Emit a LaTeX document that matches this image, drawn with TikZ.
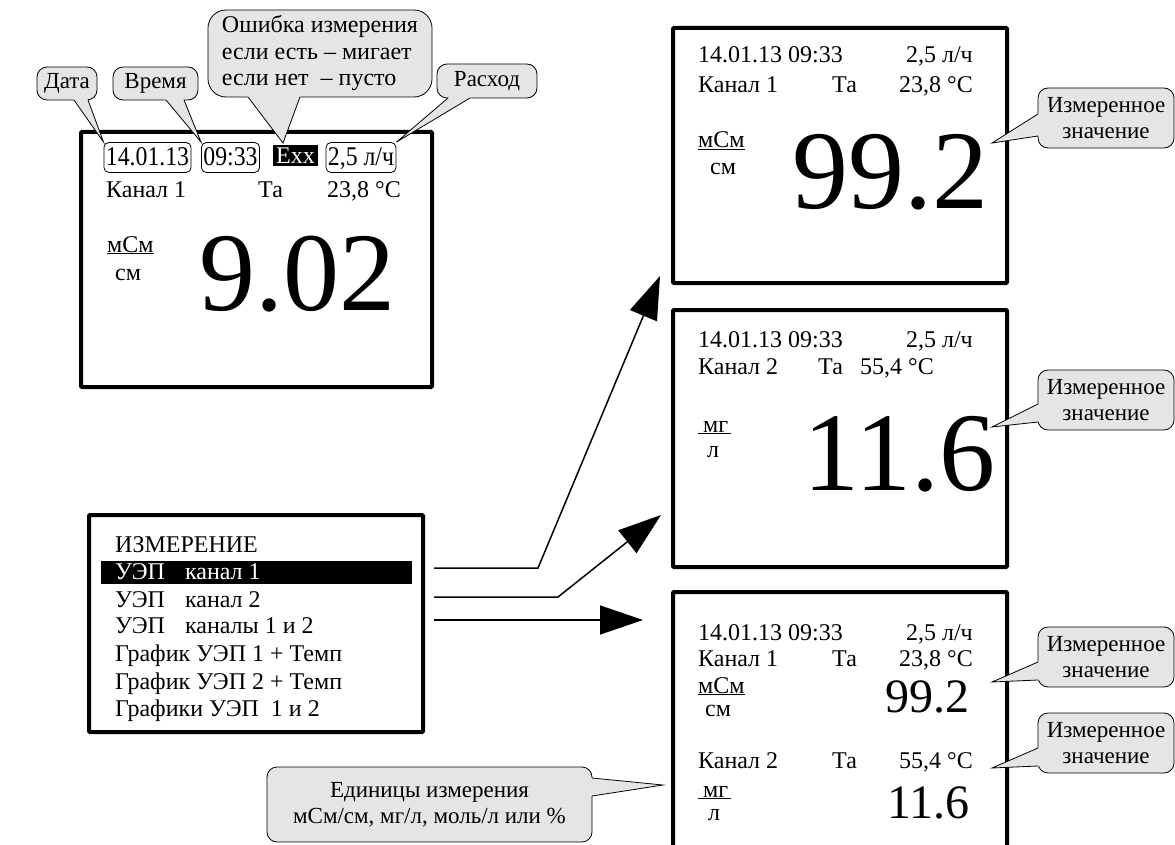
\documentclass[tikz,border=0pt]{standalone}
\usepackage{fontspec}
\setmainfont{Liberation Serif}
\newfontfamily\fldfont{Liberation Serif}[FakeStretch=0.88]
\usetikzlibrary{arrows.meta}
\usetikzlibrary{calc}

\definecolor{notegray}{gray}{0.9}

% pointer of a callout: base point, tip, base point
\newcommand{\notetip}[3]{%
  \fill[notegray] (#2) -- ($(#2)!1.25!(#1)$) -- ($(#2)!1.25!(#3)$) -- cycle;
  \draw[line width=.8pt, line join=miter] (#1) -- (#2) -- (#3);}

\tikzset{
  screen/.style={draw, line width=4pt, rounded corners=1pt, inner sep=0pt},
  txt/.style={inner sep=0pt, anchor=base west, text height=17pt, text depth=4pt,
    font=\fontsize{24}{26}\selectfont},
  txtr/.style={txt, anchor=base east},
  mnu/.style={inner sep=0pt, anchor=base west, font=\fontsize{24}{26}\selectfont},
  big/.style={inner sep=0pt, anchor=base east, text height=76pt, text depth=0pt,
    font=\fontsize{112}{112}\selectfont},
  mid/.style={inner sep=0pt, anchor=base east, text height=32pt, text depth=0pt,
    font=\fontsize{48}{48}\selectfont},
  fld/.style={draw, line width=.8pt, rounded corners=5pt, inner xsep=2pt, inner ysep=3.5pt,
    text height=20pt, text depth=3pt, font=\fldfont\fontsize{27}{27}\selectfont},
  note/.style={draw, line width=.8pt, fill=notegray, rounded corners=10pt, align=center,
    inner sep=0pt, font=\fontsize{23}{26}\selectfont},
  arr/.style={line width=1.5pt, -{Triangle[length=43pt,width=29pt]}},
}

\begin{document}
\begin{tikzpicture}[x=1pt, y=-1pt]
  \useasboundingbox (0,0) rectangle (1175,845);

  % screen with the fields
  \node[screen, minimum width=351pt, minimum height=255pt] (scr0) at (256.5,259.5) {};
  \node[fld] (date) at (147.5,157.5) {14.01.13};
  \node[fld] (time) at (230.5,157.5) {09:33};
  \node[fill=black, text=white, inner xsep=3pt, inner ysep=1.5pt, text height=17pt, text depth=1pt,
    font=\fontsize{24}{24}\selectfont] (err) at (295.5,155.5) {Exx};
  \node[fld] (flow) at (361,157.5) {2,5 л/ч};
  \node[txt] at (106,197) {Канал 1};
  \node[txt] at (258,197) {Та};
  \node[txt] at (327,197) {23,8 °C};
  \node[txt] at (107,252) {\underline{мСм}};
  \node[txt] at (115,280) {см};
  \node[big] (val0) at (396,310) {9.02};

  \node[note, minimum width=60pt, minimum height=33pt] (ndate) at (67,83.5) {Дата};
  \node[note, minimum width=85pt, minimum height=33pt] (ntime) at (155.5,83.5) {Время};
  \node[note, rounded corners=18pt, align=left, minimum width=224pt, minimum height=87pt,
    font=\fontsize{24}{26.5}\selectfont] (nerr) at (320,53.5)
    {Ошибка измерения\\если есть – мигает\\если нет \ – пусто};
  \node[note, minimum width=100pt, minimum height=34pt] (nflow) at (487,81) {Расход};
  \notetip{74,100}{date.north west}{88,100}
  \notetip{166,100}{time.north west}{184,100}
  \notetip{248,97}{283,143}{300,97}
  \notetip{448,98}{flow.north east}{470,98}

  % menu
  \node[screen, minimum width=334pt, minimum height=217pt] (menu) at (256,623.5) {};
  \fill (101,561) rectangle (412,584);
  \node[mnu] (m0) at (115,552) {ИЗМЕРЕНИЕ};
  \node[mnu, text=white] (m1) at (115,579) {УЭП\hspace{20pt}канал 1};
  \node[mnu] (m2) at (115,607) {УЭП\hspace{20pt}канал 2};
  \node[mnu] (m3) at (115,633) {УЭП\hspace{20pt}каналы 1 и 2};
  \node[mnu] (m4) at (115,661) {График УЭП 1 + Темп};
  \node[mnu] (m5) at (115,689) {График УЭП 2 + Темп};
  \node[mnu] (m6) at (115,716) {Графики УЭП\hspace{12pt}1 и 2};

  \node[note, minimum width=325pt, minimum height=75pt] (nunit) at (429.5,804.5)
    {Единицы измерения\\мСм/см, мг/л, моль/л или \%};
  \notetip{592,778}{663,785}{592,796}

  % screen: channel 1
  \node[screen, minimum width=334pt, minimum height=255pt] (scr1) at (840,155.5) {};
  \node[txt] at (698,63) {14.01.13 09:33};
  \node[txtr] at (973,63) {2,5 л/ч};
  \node[txt] at (698,93) {Канал 1};
  \node[txt] at (832,93) {Та};
  \node[txtr] at (973,93) {23,8 °C};
  \node[txt] at (698,148) {\underline{мСм}};
  \node[txt] at (710,175) {см};
  \node[big] (val1) at (989,208) {99.2};
  \node[note, minimum width=136pt, minimum height=60pt] (nval1) at (1106,118) {Измеренное\\значение};
  \notetip{1038,114}{992,143}{1038,136}

  % screen: channel 2
  \node[screen, minimum width=334pt, minimum height=257pt] (scr2) at (840,438.5) {};
  \node[txt] at (698,347) {14.01.13 09:33};
  \node[txtr] at (973,347) {2,5 л/ч};
  \node[txt] at (698,374) {Канал 2};
  \node[txt] at (818,374) {Та};
  \node[txt] at (860,374) {55,4 °C};
  \node[txt] at (698,432) {\underline{\hspace{5pt}мг\hspace{3pt}}};
  \node[txt] at (707,457) {л};
  \node[big] (val2) at (996,490) {11.6};
  \node[note, minimum width=136pt, minimum height=60pt] (nval2) at (1106,400) {Измеренное\\значение};
  \notetip{1038,404}{992,427}{1038,422}

  % screen: channels 1 and 2
  \node[screen, minimum width=334pt, minimum height=263pt] (scr3) at (840,723.5) {};
  \node[txt] at (698,640) {14.01.13 09:33};
  \node[txtr] at (973,640) {2,5 л/ч};
  \node[txt] at (698,666) {Канал 1};
  \node[txt] at (832,666) {Та};
  \node[txtr] at (973,666) {23,8 °C};
  \node[txt] at (698,693) {\underline{мСм}};
  \node[txt] at (705,716) {см};
  \node[mid] (val3) at (970,712) {99.2};
  \node[txt] at (698,768) {Канал 2};
  \node[txt] at (832,768) {Та};
  \node[txtr] at (973,768) {55,4 °C};
  \node[txt] at (698,797) {\underline{\hspace{5pt}мг\hspace{3pt}}};
  \node[txt] at (708,820) {л};
  \node[mid] (val4) at (970,818) {11.6};
  \node[note, minimum width=136pt, minimum height=60pt] (nval3) at (1106,657) {Измеренное\\значение};
  \node[note, minimum width=136pt, minimum height=60pt] (nval4) at (1106,743) {Измеренное\\значение};
  \notetip{1038,662}{992,682}{1038,680}
  \notetip{1038,748}{992,768}{1038,766}

  % menu -> screens
  \coordinate (s1) at ([xshift=9pt]menu.east |- 0,568);
  \coordinate (s2) at ([xshift=9pt]menu.east |- 0,597);
  \coordinate (s3) at ([xshift=9pt]menu.east |- 0,620);
  \coordinate (t1) at (660,276);
  \coordinate (t2) at (661,515);
  \coordinate (t3) at (643,620);
  \draw[arr] (s1) -- (538,568) -- (t1);
  \draw[arr] (s2) -- (558,597) -- (t2);
  \draw[arr] (s3) -- (t3);
\end{tikzpicture}
\end{document}
